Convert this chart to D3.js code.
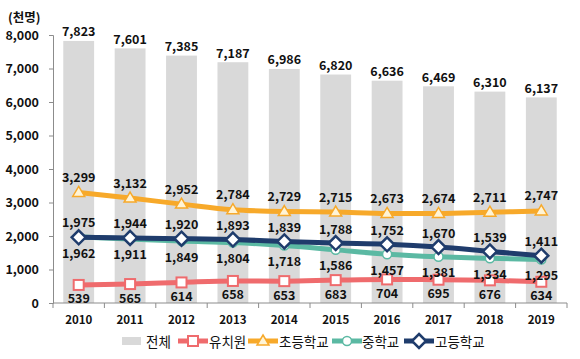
<!DOCTYPE html>
<html><head><meta charset="utf-8">
<script src="https://cdn.jsdelivr.net/npm/d3@7"></script>
<style>html,body{margin:0;padding:0;background:#fff;}svg{display:block;font-family:"Noto Sans CJK KR","Noto Sans",sans-serif;}</style>
</head><body><svg id="c" width="580" height="359"></svg>
<script>
const years = ["2010","2011","2012","2013","2014","2015","2016","2017","2018","2019"];
const total = [7823,7601,7385,7187,6986,6820,6636,6469,6310,6137];
const kinder = [539,565,614,658,653,683,704,695,676,634];
const elem = [3299,3132,2952,2784,2729,2715,2673,2674,2711,2747];
const middle = [1975,1911,1849,1804,1718,1586,1457,1381,1334,1295];
const high = [1962,1944,1920,1893,1839,1788,1752,1670,1539,1411];
const yTicks = [0,1000,2000,3000,4000,5000,6000,7000,8000];
const seriesNames = ["전체","유치원","초등학교","중학교","고등학교"];
const unitLabel = "(천명)";

const svg = d3.select("#c");
const L = 53, R = 567, T = 35, B = 303;
const x = d3.scaleBand().domain(years).range([L, R]).paddingInner(0.4).paddingOuter(0.2);
const y = d3.scaleLinear().domain([0, 8000]).range([B, T]);
const fmt = d3.format(",");
const cx = d => x(d) + x.bandwidth() / 2;

const colors = {bar:"#d9d9d9", kinder:"#ef6b6d", elem:"#f7a92a", middle:"#5bb9a3", high:"#1f3c6c"};

// bars
svg.append("g").selectAll("rect").data(years).join("rect")
  .attr("x", d => x(d)).attr("width", x.bandwidth())
  .attr("y", (d, i) => y(total[i])).attr("height", (d, i) => B - y(total[i]))
  .attr("fill", colors.bar);

// axes
const yAxis = svg.append("g").attr("transform", `translate(${L},0)`)
  .call(d3.axisLeft(y).tickValues(yTicks).tickFormat(fmt).tickSize(4).tickPadding(10));
yAxis.select(".domain").attr("stroke", "#8c8c8c");
yAxis.selectAll(".tick line").attr("stroke", "#8c8c8c");
yAxis.selectAll("text").attr("font-size", 12.5).attr("font-weight", "bold").attr("fill", "#111")
  .attr("font-family", '"Noto Sans CJK KR","Noto Sans",sans-serif');

const xg = svg.append("g");
xg.append("line").attr("x1", L).attr("x2", R).attr("y1", B).attr("y2", B).attr("stroke", "#8c8c8c");
const bounds = d3.range(years.length + 1).map(i => L + i * (R - L) / years.length);
xg.selectAll("line.t").data(bounds).join("line").attr("class","t")
  .attr("x1", d => d).attr("x2", d => d).attr("y1", B).attr("y2", B + 5).attr("stroke", "#8c8c8c");
xg.selectAll("text").data(years).join("text")
  .attr("x", d => cx(d)).attr("y", 324).attr("text-anchor", "middle")
  .attr("font-size", 11.5).attr("font-weight", "bold").attr("fill", "#111").text(d => d);

svg.append("text").attr("x", 8).attr("y", 22).attr("font-size", 12.5).attr("font-weight", "bold")
  .attr("fill", "#111").text(unitLabel);

// lines
const line = d3.line().x((d, i) => cx(years[i])).y(d => y(d)).curve(d3.curveMonotoneX);
function drawLine(vals, color) {
  svg.append("path").datum(vals).attr("d", line).attr("fill", "none")
    .attr("stroke", color).attr("stroke-width", 5).attr("stroke-linejoin", "round");
}
function marker(g, type, color, px, py) {
  if (type === "square") g.append("rect").attr("x", px - 5).attr("y", py - 5).attr("width", 10).attr("height", 10)
    .attr("fill", "#fff").attr("stroke", color).attr("stroke-width", 2);
  else if (type === "triangle") g.append("path").attr("d", `M${px},${py-6}L${px+6},${py+4}L${px-6},${py+4}Z`)
    .attr("fill", "#fff4d6").attr("stroke", color).attr("stroke-width", 1.5);
  else if (type === "circle") g.append("circle").attr("cx", px).attr("cy", py).attr("r", 4.5)
    .attr("fill", "#fff").attr("stroke", color).attr("stroke-width", 1.5);
  else if (type === "diamond") g.append("path").attr("d", `M${px},${py-7}L${px+7},${py}L${px},${py+7}L${px-7},${py}Z`)
    .attr("fill", "#fff").attr("stroke", color).attr("stroke-width", 2.5);
}
function drawMarkers(vals, type, color) {
  const g = svg.append("g");
  vals.forEach((v, i) => marker(g, type, color, cx(years[i]), y(v)));
}
drawLine(kinder, colors.kinder);
drawLine(elem, colors.elem);
drawLine(middle, colors.middle);
drawLine(high, colors.high);
drawMarkers(kinder, "square", colors.kinder);
drawMarkers(elem, "triangle", colors.elem);
drawMarkers(middle, "circle", colors.middle);
drawMarkers(high, "diamond", colors.high);

// labels
const lab = svg.append("g").attr("font-size", 12.5).attr("font-weight", "bold").attr("fill", "#111").attr("text-anchor", "middle");
function labels(vals, dy) {
  vals.forEach((v, i) => {
    const off = typeof dy === "function" ? dy(i) : dy;
    lab.append("text").attr("x", cx(years[i])).attr("y", y(v) + off).attr("dominant-baseline", "central").text(fmt(v));
  });
}
labels(total, -10);
labels(elem, -16);
labels(kinder, 13);
labels(middle, i => middle[i] >= high[i] ? -15 : 15);
labels(high, i => high[i] > middle[i] ? -15 : 15);

// legend
const lg = svg.append("g").attr("font-size", 13.5);
const ly = 341;
lg.append("rect").attr("x", 122).attr("y", ly - 4).attr("width", 19).attr("height", 8).attr("fill", colors.bar);
lg.append("text").attr("x", 146).attr("y", ly).attr("dominant-baseline", "central").attr("fill", "#111").text(seriesNames[0]);
const items = [
  {x0: 178, color: colors.kinder, type: "square", name: seriesNames[1], tx: 209},
  {x0: 248, color: colors.elem, type: "triangle", name: seriesNames[2], tx: 279},
  {x0: 332, color: colors.middle, type: "circle", name: seriesNames[3], tx: 362},
  {x0: 404, color: colors.high, type: "diamond", name: seriesNames[4], tx: 435}
];
items.forEach(it => {
  lg.append("line").attr("x1", it.x0).attr("x2", it.x0 + 30).attr("y1", ly).attr("y2", ly)
    .attr("stroke", it.color).attr("stroke-width", 5);
  marker(lg, it.type, it.color, it.x0 + 15, ly);
  lg.append("text").attr("x", it.tx).attr("y", ly).attr("dominant-baseline", "central").attr("fill", "#111").text(it.name);
});
</script></body></html>
